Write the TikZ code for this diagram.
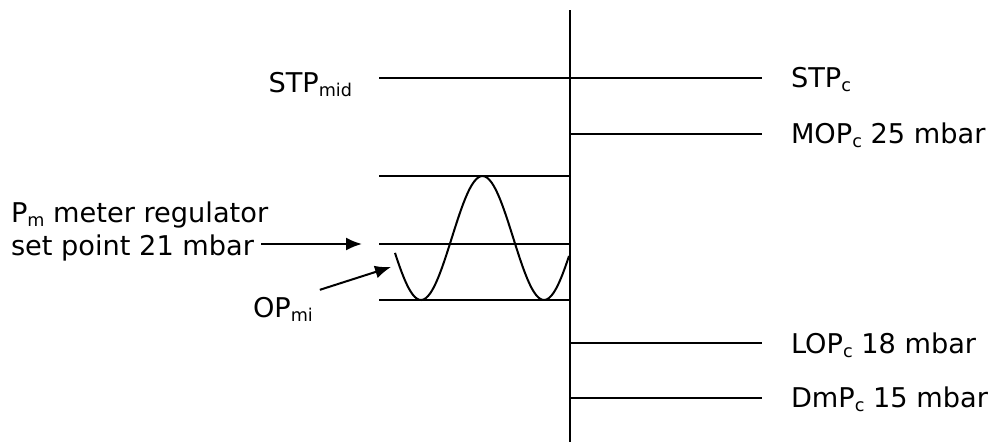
\documentclass[tikz,border=0pt]{standalone}
\usepackage{fontspec}
\setmainfont{DejaVu Sans}
\usepackage{tikz}
\usetikzlibrary{arrows.meta,calc,positioning}
\newcommand{\lowsub}[1]{\raisebox{-0.15em}{\fontsize{8.8}{9}\selectfont #1}}

\begin{document}
\begin{tikzpicture}[x=0.5pt, y=-0.5pt, line width=1pt,
    lbl/.style={inner sep=3pt, font=\fontsize{13.6}{16}\selectfont},
    pointer/.style={-{Latex[length=8pt, width=6.5pt]}}]
  \useasboundingbox (0,0) rectangle (994,445);
  % Draw axis
  \draw[line width=1.2pt] (570,10) -- (570,442);
  % Draw pressure levels
  \draw (379,78) -- (762,78);
  \draw (570,134) -- (762,134);
  \draw (379,176) -- (570,176);
  \draw (379,244) -- (570,244);
  \draw (379,300) -- (570,300);
  \draw (570,343) -- (762,343);
  \draw (570,398) -- (762,398);
  % Label the levels
  \node[lbl, anchor=base east] (stpmid) at (359,92) {STP\lowsub{mid}};
  \node[lbl, anchor=base west] (stpc) at (784,87) {STP\lowsub{c}};
  \node[lbl, anchor=base west] (mopc) at (784,143) {MOP\lowsub{c} 25 mbar};
  \node[lbl, anchor=base west] (lopc) at (784,353) {LOP\lowsub{c} 18 mbar};
  \node[lbl, anchor=base west] (dmpc) at (784,407) {DmP\lowsub{c} 15 mbar};
  \node[lbl, anchor=base west] (pm) at (4,222) {P\lowsub{m} meter regulator};
  \node[lbl, anchor=base west] (setpt) at (4,255) {set point 21 mbar};
  \node[lbl, anchor=base west] (opmi) at (246,317) {OP\lowsub{mi}};
  % Draw the pressure swing
  \draw[domain=395:569, samples=80, smooth, variable=\x]
    plot ({\x}, {238+62*cos((\x-421)/123*360)});
  % Point at the curve
  \coordinate (setarr) at (362,244);
  \coordinate (oparr) at (391,267);
  \draw[pointer] (setpt.east |- setarr) -- (setarr);
  \draw[pointer] (opmi.north east) -- (oparr);
\end{tikzpicture}
\end{document}
